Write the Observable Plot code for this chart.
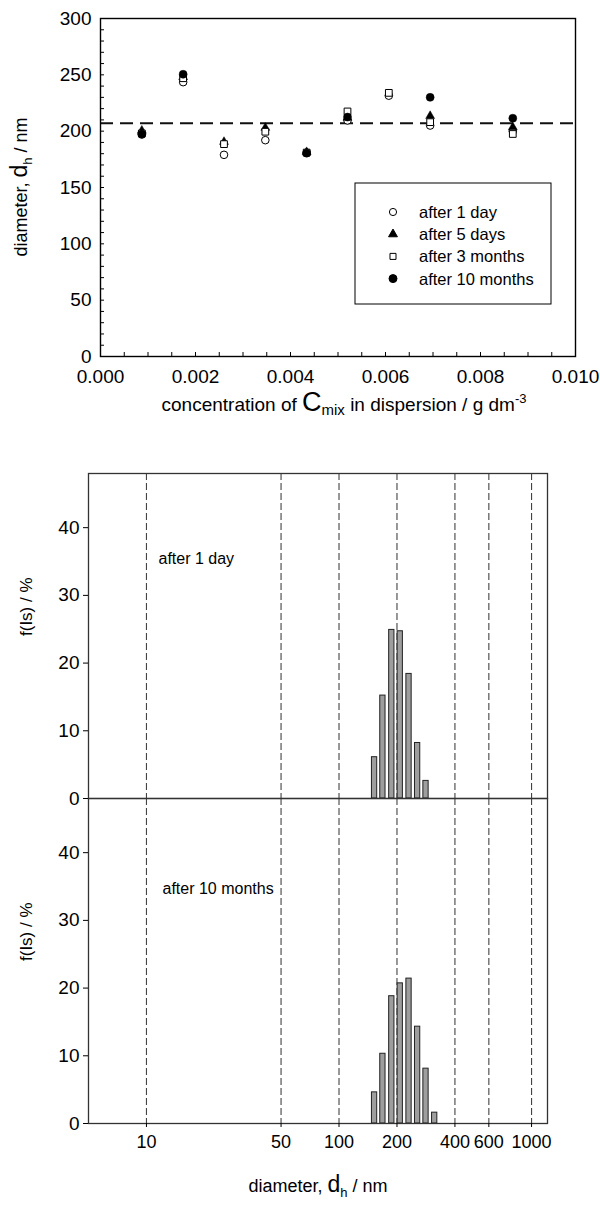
<!DOCTYPE html>
<html><head><meta charset="utf-8">
<script src="https://cdn.jsdelivr.net/npm/d3@7"></script>
<script src="https://cdn.jsdelivr.net/npm/@observablehq/plot@0.6"></script>
<style>
body{margin:0;background:#fff;font-family:"Liberation Sans",Arial,sans-serif;}
#wrap{width:600px;}
#wrap svg{display:block;}
</style></head><body><div id="wrap"></div>
<script>
// ---- top chart data ----
const concentrations = [0.00087, 0.00174, 0.0026, 0.00347, 0.00434, 0.0052, 0.00607, 0.00694, 0.00868];
const after1Day     = [197, 243.5, 179, 192, 181, 209.5, 231.5, 205, 200];
const after5Days    = [200.5, 248, 190.5, 203, 181.5, 212, null, 213.5, 203.5];
const after3Months  = [198, 247, 188.5, 199.5, 181, 217.5, 234, 208, 197.5];
const after10Months = [197.5, 250.5, null, null, 180.5, 212.5, null, 230, 211.5];
const meanDiameter = [207];
const seriesNames = ["after 1 day", "after 5 days", "after 3 months", "after 10 months"];
const xTickLabels = [0, 0.002, 0.004, 0.006, 0.008, 0.010];
const yTickLabels = [0, 50, 100, 150, 200, 250, 300];

// ---- bottom chart data ----
const panels = ["after 1 day", "after 10 months"];
const binDiameters = [153, 169, 188, 208, 231, 256, 283, 314];
const dist1Day     = [6.1, 15.2, 24.9, 24.7, 18.4, 8.2, 2.6, 0];
const dist10Months = [4.6, 10.3, 18.8, 20.7, 21.4, 14.3, 8.1, 1.6];
const diameterTicks = [10, 50, 100, 200, 400, 600, 1000];
const fTicks = [0, 10, 20, 30, 40];

const FONT = "Liberation Sans, Arial, Helvetica, sans-serif";
const wrap = document.getElementById("wrap");

function rowsOf(values) {
  return concentrations.map((c, i) => ({c, v: values[i]})).filter(d => d.v != null);
}

const topPlot = Plot.plot({
  width: 600, height: 430,
  marginLeft: 100, marginRight: 25, marginTop: 18, marginBottom: 74,
  style: {fontFamily: FONT, background: "white", color: "black", overflow: "visible"},
  x: {domain: [0, 0.01]},
  y: {domain: [0, 300]},
  marks: [
    Plot.ruleY(meanDiameter, {stroke: "#111", strokeWidth: 2, strokeDasharray: "13,7"}),
    Plot.dot(rowsOf(after1Day), {x: "c", y: "v", symbol: "circle", r: 3.8, fill: "white", stroke: "black", strokeWidth: 1}),
    Plot.dot(rowsOf(after5Days), {x: "c", y: "v", symbol: "triangle", r: 3.3, fill: "black", stroke: "black", strokeWidth: 0.5}),
    Plot.dot(rowsOf(after3Months), {x: "c", y: "v", symbol: "square", r: 3.8, fill: "white", stroke: "black", strokeWidth: 1}),
    Plot.dot(rowsOf(after10Months), {x: "c", y: "v", symbol: "circle", r: 4, fill: "black", stroke: "black", strokeWidth: 0.5}),
    Plot.frame({stroke: "black", strokeWidth: 1.4}),
    Plot.axisX({ticks: d3.range(0, 0.01001, 0.0005), tickSize: -4, text: null, label: null, strokeWidth: 1}),
    Plot.axisX({ticks: xTickLabels, tickSize: 0, tickPadding: 13, tickFormat: d3.format(".3f"), fontSize: 19, label: null}),
    Plot.axisY({ticks: d3.range(0, 301, 10), tickSize: -4, text: null, label: null, strokeWidth: 1}),
    Plot.axisY({ticks: yTickLabels, tickSize: 0, tickPadding: 9, fontSize: 19, label: null})
  ]
});
wrap.appendChild(topPlot);

// legend + axis titles for the top chart
{
  const svg = d3.select(topPlot);
  const g = svg.append("g").attr("font-family", FONT).attr("text-anchor", "start");
  g.append("rect").attr("x", 355).attr("y", 183).attr("width", 196).attr("height", 121)
    .attr("fill", "white").attr("stroke", "black").attr("stroke-width", 1);
  const styles = [
    {type: d3.symbolCircle, r: 3.6, fill: "white"},
    {type: d3.symbolTriangle, r: 3.3, fill: "black"},
    {type: d3.symbolSquare, r: 3.4, fill: "white"},
    {type: d3.symbolCircle, r: 4, fill: "black"}
  ];
  seriesNames.forEach((name, i) => {
    const y = 212 + i * 22.2;
    const s = styles[i];
    g.append("path").attr("transform", `translate(393,${y})`)
      .attr("d", d3.symbol(s.type, Math.PI * s.r * s.r)())
      .attr("fill", s.fill).attr("stroke", "black").attr("stroke-width", 1);
    g.append("text").attr("x", 419).attr("y", y + 6).attr("text-anchor", "start").attr("font-size", 16.5).text(name);
  });
  // y title
  const yt = g.append("text").attr("transform", "translate(27,187) rotate(-90)")
    .attr("text-anchor", "middle").attr("font-size", 18);
  yt.append("tspan").text("diameter, ");
  yt.append("tspan").attr("font-size", 23).text("d");
  yt.append("tspan").attr("font-size", 13).attr("dy", 5).text("h");
  yt.append("tspan").attr("dy", -5).text(" / nm");
  // x title
  const xt = g.append("text").attr("x", 344).attr("y", 411).attr("text-anchor", "middle").attr("font-size", 19);
  xt.append("tspan").text("concentration of ");
  xt.append("tspan").attr("font-size", 27).text("C");
  xt.append("tspan").attr("font-size", 15).attr("dy", 4).text("mix");
  xt.append("tspan").attr("dy", -4).text(" in dispersion / g dm");
  xt.append("tspan").attr("font-size", 13).attr("dy", -8).text("-3");
}

// ---- bottom chart ----
const histRows = [];
binDiameters.forEach((d, i) => {
  if (dist1Day[i] > 0) histRows.push({panel: panels[0], d, f: dist1Day[i]});
  if (dist10Months[i] > 0) histRows.push({panel: panels[1], d, f: dist10Months[i]});
});

const bottomPlot = Plot.plot({
  width: 600, height: 775,
  marginLeft: 88, marginRight: 53, marginTop: 43, marginBottom: 82,
  style: {fontFamily: FONT, background: "white", color: "black", overflow: "visible"},
  x: {type: "log", domain: [5, 1210]},
  y: {domain: [0, 48]},
  fy: {domain: panels, padding: 0, axis: null, label: null},
  marks: [
    Plot.ruleX(diameterTicks, {stroke: "#444", strokeWidth: 1.1, strokeDasharray: "7,3"}),
    Plot.rect(histRows, {fy: "panel", x1: d => d.d / 1.032, x2: d => d.d * 1.032, y1: 0, y2: "f",
      fill: "#9e9e9e", stroke: "#222", strokeWidth: 1}),
    Plot.frame({stroke: "#333", strokeWidth: 1.3}),
    Plot.axisY({ticks: fTicks, tickSize: 5, tickPadding: 4, fontSize: 19, label: null}),
    Plot.axisX({ticks: diameterTicks, tickSize: 4, text: null, label: null}),
    Plot.text(diameterTicks, {x: d => d, fy: () => panels[1], text: d => String(d), frameAnchor: "bottom",
      lineAnchor: "top", dy: 12, fontSize: 18}),
    Plot.text(panels, {fy: d => d, text: () => "f(Is) / %", frameAnchor: "left", rotate: -90, dx: -62, fontSize: 17}),
    Plot.text([panels[0]], {fy: d => d, text: d => d, frameAnchor: "top-left", textAnchor: "start", dx: 70, dy: 79, fontSize: 16}),
    Plot.text([panels[1]], {fy: d => d, text: d => d, frameAnchor: "top-left", textAnchor: "start", dx: 74, dy: 84, fontSize: 16})
  ]
});
wrap.appendChild(bottomPlot);
{
  const svg = d3.select(bottomPlot);
  const xt = svg.append("text").attr("font-family", FONT).attr("x", 318).attr("y", 762)
    .attr("text-anchor", "middle").attr("font-size", 18);
  xt.append("tspan").text("diameter, ");
  xt.append("tspan").attr("font-size", 23).text("d");
  xt.append("tspan").attr("font-size", 13).attr("dy", 5).text("h");
  xt.append("tspan").attr("dy", -5).text(" / nm");
}
</script></body></html>
